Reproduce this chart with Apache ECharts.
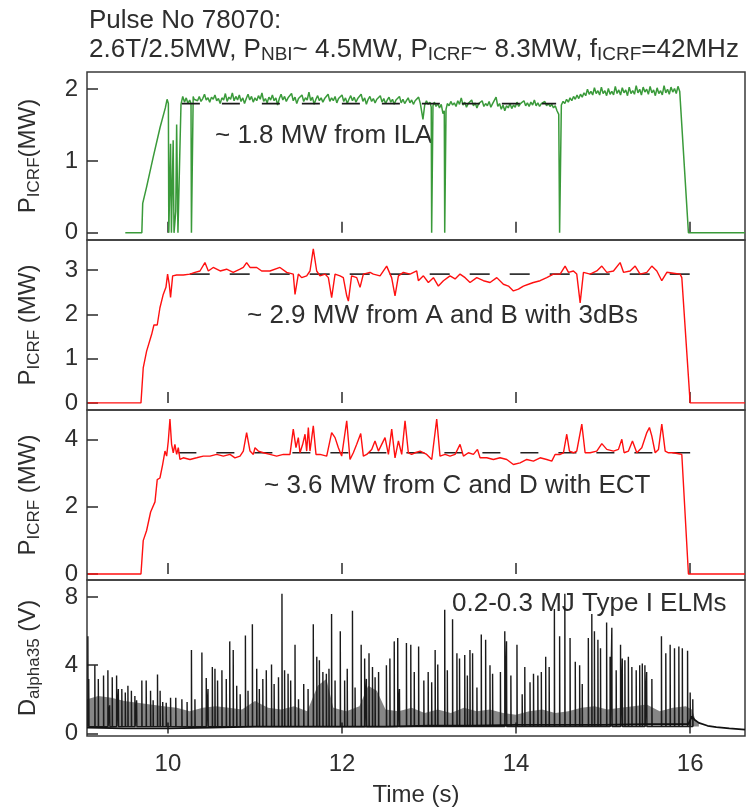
<!DOCTYPE html>
<html>
<head>
<meta charset="utf-8">
<script src="https://cdn.jsdelivr.net/npm/echarts@6/dist/echarts.min.js"></script>
<style>html,body{margin:0;padding:0;background:#fff}#c{width:752px;height:808px}</style>
</head>
<body>
<div id="c"></div>
<script>
// ---------- data ----------
const xTicks = [10, 12, 14, 16];
const yTicks1 = [0, 1, 2];
const yTicks2 = [0, 1, 2, 3];
const yTicks3 = [0, 2, 4];
const yTicks4 = [0, 4, 8];

// ILA coupled power (MW)
const ilaPower = [
[9.51,0],[9.70,0],[9.71,0.41],[9.755,0.64],[9.83,1.05],[9.91,1.47],[9.97,1.74],[9.99,1.86],[10.005,1.80],[10.01,0],[10.025,0],[10.03,1.24],[10.04,0],[10.055,0],[10.06,1.29],[10.07,0],[10.09,0.3],[10.10,1.51],[10.115,0],[10.125,0],[10.14,1.3],[10.15,1.79],[10.17,1.9],[10.19,1.82],[10.21,1.88],[10.23,1.80],[10.25,1.85],[10.265,1.8],[10.27,0],[10.28,0],[10.29,1.9],[10.30,1.86],
[10.32,1.88],[10.34,1.84],[10.36,1.90],[10.38,1.83],[10.40,1.87],[10.42,1.93],[10.44,1.85],[10.46,1.88],[10.48,1.82],[10.50,1.89],[10.52,1.86],[10.54,1.92],[10.56,1.84],[10.58,1.87],[10.60,1.80],[10.62,1.88],[10.64,1.85],[10.66,1.94],[10.68,1.83],[10.70,1.89],[10.72,1.86],[10.74,1.95],[10.76,1.84],[10.78,1.90],[10.80,1.85],[10.82,1.92],[10.84,1.83],[10.86,1.88],[10.88,1.80],[10.90,1.87],[10.92,1.93],[10.94,1.85],[10.96,1.90],[10.98,1.82],[11.00,1.88],[11.02,1.84],[11.04,1.91],[11.06,1.86],[11.08,1.95],[11.10,1.83],[11.12,1.87],[11.14,1.81],[11.16,1.89],[11.18,1.85],[11.20,1.92],[11.22,1.84],[11.24,1.88],[11.26,1.78],[11.28,1.87],[11.30,1.93],[11.32,1.85],[11.34,1.90],[11.36,1.83],[11.38,1.88],[11.40,1.86],[11.42,1.94],[11.44,1.84],[11.46,1.89],[11.48,1.80],[11.50,1.87],[11.52,1.85],[11.54,1.92],[11.56,1.83],[11.58,1.88],[11.60,1.85],[11.62,1.96],[11.64,1.84],[11.66,1.89],[11.68,1.79],[11.70,1.86],[11.72,1.91],[11.74,1.84],[11.76,1.88],[11.78,1.82],[11.80,1.87],[11.82,1.85],[11.84,1.93],[11.86,1.83],[11.88,1.88],[11.90,1.84],[11.92,1.90],[11.94,1.81],[11.96,1.87],[11.98,1.85],[12.00,1.92],[12.02,1.83],[12.04,1.88],[12.06,1.80],[12.08,1.86],[12.10,1.91],[12.12,1.84],[12.14,1.89],[12.16,1.82],[12.18,1.87],[12.20,1.85],[12.22,1.93],[12.24,1.83],[12.26,1.88],[12.28,1.79],[12.30,1.86],[12.32,1.90],[12.34,1.83],[12.36,1.87],[12.38,1.81],[12.40,1.86],[12.42,1.84],[12.44,1.91],[12.46,1.82],[12.48,1.87],[12.50,1.80],[12.52,1.85],[12.54,1.89],[12.56,1.82],[12.58,1.86],[12.60,1.79],[12.62,1.85],[12.64,1.83],[12.66,1.90],[12.68,1.81],[12.70,1.86],[12.72,1.80],[12.74,1.84],[12.76,1.88],[12.78,1.81],[12.80,1.85],[12.82,1.79],[12.84,1.84],[12.86,1.82],[12.88,1.89],[12.90,1.80],
[12.92,1.80],[12.93,1.58],[12.95,1.78],[12.97,1.84],[12.99,1.79],[13.01,1.82],[13.025,1.75],[13.03,0],[13.04,0],[13.045,1.77],[13.06,1.82],[13.08,1.76],[13.10,1.80],[13.12,1.74],[13.14,1.79],[13.16,1.66],[13.175,1.7],[13.18,0],[13.19,0],[13.195,1.72],[13.21,1.80],[13.23,1.77],[13.25,1.83],[13.27,1.78],[13.29,1.81],[13.31,1.76],[13.33,1.84],[13.35,1.79],[13.37,1.88],[13.39,1.78],[13.41,1.82],[13.43,1.75],[13.45,1.80],[13.47,1.78],[13.49,1.85],[13.51,1.77],[13.53,1.81],[13.55,1.74],[13.57,1.80],[13.59,1.78],[13.61,1.84],[13.63,1.76],[13.65,1.80],[13.67,1.77],[13.69,1.83],[13.71,1.75],[13.73,1.80],[13.75,1.78],[13.77,1.89],[13.79,1.76],[13.81,1.80],[13.83,1.72],[13.85,1.78],[13.87,1.70],[13.89,1.77],[13.91,1.74],[13.93,1.80],[13.95,1.73],[13.97,1.78],[13.99,1.75],[14.01,1.82],[14.03,1.76],[14.05,1.80],[14.07,1.78],[14.09,1.84],[14.11,1.77],[14.13,1.81],[14.15,1.76],[14.17,1.82],[14.19,1.78],[14.21,1.85],[14.23,1.77],[14.25,1.81],[14.27,1.76],[14.29,1.80],[14.31,1.78],[14.33,1.83],[14.35,1.77],[14.37,1.80],[14.39,1.76],[14.41,1.79],[14.43,1.74],[14.45,1.77],[14.47,1.70],[14.49,1.65],[14.50,0],[14.51,0],[14.52,1.78],
[14.54,1.83],[14.56,1.80],[14.58,1.86],[14.60,1.82],[14.62,1.88],[14.64,1.84],[14.66,1.90],[14.68,1.86],[14.70,1.92],[14.72,1.87],[14.74,1.93],[14.76,1.89],[14.78,1.95],[14.80,1.91],[14.82,2.00],[14.84,1.93],[14.86,1.97],[14.88,1.92],[14.90,2.02],[14.92,1.94],[14.94,1.98],[14.96,1.92],[14.98,2.03],[15.00,1.94],[15.02,1.98],[15.04,1.91],[15.06,2.01],[15.08,1.93],[15.10,1.97],[15.12,1.92],[15.14,2.04],[15.16,1.94],[15.18,1.99],[15.20,1.92],[15.22,2.02],[15.24,1.95],[15.26,1.99],[15.28,1.91],[15.30,2.03],[15.32,1.94],[15.34,1.98],[15.36,1.93],[15.38,2.05],[15.40,1.95],[15.42,2.00],[15.44,1.92],[15.46,2.03],[15.48,1.96],[15.50,2.00],[15.52,1.93],[15.54,2.04],[15.56,1.95],[15.58,1.99],[15.60,1.91],[15.62,2.02],[15.64,1.94],[15.66,1.98],[15.68,1.92],[15.70,2.05],[15.72,1.95],[15.74,2.00],[15.76,1.93],[15.78,2.03],[15.80,1.96],[15.82,2.01],[15.84,1.94],[15.86,2.04],[15.88,1.97],[15.90,1.98],[15.98,0],[16.63,0]
];
const ilaMean = [[10.16,1.8],[14.46,1.8]];

// A and B with 3dB couplers (MW)
const abPower = [
[9.08,0],[9.69,0],[9.716,0.79],[9.755,1.17],[9.813,1.55],[9.839,1.76],[9.877,1.76],[9.908,2.15],[9.946,2.45],[9.977,2.61],[9.996,2.91],[10.015,2.68],[10.03,2.38],[10.054,2.87],[10.10,2.89],[10.176,2.89],[10.253,2.91],[10.31,2.95],[10.368,2.98],[10.425,3.17],[10.464,2.98],[10.52,3.06],[10.60,2.98],[10.674,3.02],[10.75,2.95],[10.828,3.02],[10.866,3.06],[10.904,3.17],[10.943,3.06],[11.02,3.06],[11.077,2.98],[11.172,2.98],[11.287,3.06],[11.364,2.95],[11.44,2.91],[11.46,2.45],[11.498,2.91],[11.536,2.83],[11.594,2.87],[11.632,2.98],[11.67,3.48],[11.709,2.98],[11.747,2.87],[11.805,2.91],[11.843,2.83],[11.881,2.38],[11.92,2.91],[11.977,2.87],[12.015,2.83],[12.054,2.42],[12.073,2.30],[12.11,2.87],[12.169,2.83],[12.207,2.61],[12.245,2.91],[12.322,2.95],[12.36,2.91],[12.437,2.87],[12.513,3.09],[12.57,2.83],[12.609,2.42],[12.648,2.87],[12.705,2.95],[12.782,2.91],[12.858,2.98],
[12.877,2.76],[12.935,2.87],[12.992,2.72],[13.05,2.83],[13.107,2.64],[13.165,2.76],[13.241,2.87],[13.299,2.80],[13.356,2.91],[13.414,2.83],[13.471,2.72],[13.548,2.83],[13.625,2.76],[13.701,2.72],[13.778,2.83],[13.854,2.68],[13.912,2.64],[13.969,2.53],[14.027,2.57],[14.084,2.64],[14.142,2.68],[14.199,2.72],[14.276,2.76],[14.352,2.83],[14.429,2.91],[14.506,2.91],[14.563,3.09],[14.602,2.95],[14.659,2.98],[14.697,2.91],[14.736,2.26],[14.774,2.95],[14.851,2.91],[14.927,2.98],[14.985,3.09],[15.042,2.95],[15.119,2.98],[15.195,3.17],[15.234,2.95],[15.31,2.98],[15.368,3.09],[15.425,2.91],[15.502,2.95],[15.559,3.09],[15.617,2.98],[15.674,2.76],[15.732,2.95],[15.808,2.93],[15.885,2.91],[15.904,2.83],[16.0,0],[16.63,0]
];
const abMean = [[10.25,2.91],[16.2,2.91]];

// C and D with ECT (MW)
const cdPower = [
[9.08,0],[9.69,0],[9.716,0.99],[9.755,1.29],[9.801,1.84],[9.851,2.14],[9.877,2.8],[9.908,2.85],[9.939,3.25],[9.966,3.65],[9.985,3.5],[10.004,3.95],[10.023,4.6],[10.042,3.85],[10.061,3.6],[10.08,3.85],[10.10,3.55],[10.119,3.75],[10.138,3.4],[10.176,3.45],[10.253,3.4],[10.33,3.45],[10.406,3.5],[10.483,3.5],[10.56,3.55],[10.636,3.5],[10.713,3.55],[10.77,3.45],[10.828,3.5],[10.866,3.65],[10.904,4.2],[10.943,3.65],[10.981,3.55],[11.0,3.75],[11.038,3.65],[11.096,3.6],[11.172,3.55],[11.249,3.5],[11.326,3.55],[11.402,3.55],[11.44,4.3],[11.471,3.75],[11.498,4.05],[11.517,3.6],[11.548,3.85],[11.575,4.15],[11.594,3.65],[11.613,4.35],[11.632,3.65],[11.67,4.4],[11.701,3.55],[11.747,3.55],[11.824,3.5],[11.881,4.2],[11.92,4.05],[11.958,3.75],[11.996,3.5],[12.054,4.55],[12.092,3.4],[12.13,3.6],[12.169,3.85],[12.215,4.17],[12.245,3.5],[12.284,3.55],[12.341,3.7],[12.379,3.95],[12.418,3.65],[12.456,3.85],[12.494,4.05],[12.533,3.55],[12.571,4.3],[12.609,3.45],[12.648,3.95],[12.686,3.55],[12.724,4.55],[12.762,3.6],[12.8,3.55],[12.839,3.6],[12.897,3.65],[12.973,3.55],[13.031,3.4],[13.088,4.6],[13.126,3.5],[13.184,3.55],[13.241,3.5],[13.299,3.55],[13.356,3.85],[13.395,3.5],[13.452,3.6],[13.51,3.55],[13.556,3.7],[13.586,3.45],[13.663,3.45],[13.739,3.4],[13.816,3.45],[13.893,3.4],[13.969,3.25],[14.046,3.3],[14.123,3.4],[14.199,3.35],[14.276,3.45],[14.352,3.4],[14.41,3.35],[14.448,3.55],[14.506,3.55],[14.544,3.6],[14.582,4.15],[14.613,3.65],[14.659,3.6],[14.697,3.65],[14.755,4.45],[14.793,3.6],[14.851,3.6],[14.927,3.65],[14.985,3.87],[15.042,3.7],[15.119,3.65],[15.176,3.7],[15.215,4.0],[15.241,3.6],[15.291,3.65],[15.337,3.95],[15.387,3.6],[15.444,3.75],[15.502,4.2],[15.532,4.35],[15.559,4.1],[15.598,3.6],[15.636,3.7],[15.674,4.45],[15.713,3.65],[15.751,3.6],[15.808,3.6],[15.866,3.57],[15.904,3.55],[15.98,0],[16.63,0]
];
const cdMean = [[10.12,3.6],[16.0,3.6]];

// D-alpha ELM peaks (V)
const elmPeaks = [
[9.08,5.7],[9.09,3.2],[9.16,4.0],[9.20,3.2],[9.26,3.4],[9.31,3.7],[9.33,1.65],[9.36,3.3],[9.41,3.4],[9.43,2.6],[9.47,2.6],[9.51,2.4],[9.54,2.8],[9.58,2.5],[9.62,2.2],[9.64,1.95],[9.70,3.1],[9.75,3.1],[9.80,2.5],[9.83,1.95],[9.88,3.45],[9.91,2.5],[9.94,1.85],[9.98,1.8],[10.03,2.1],[10.09,2.1],[10.16,2.0],[10.22,1.85],[10.27,4.9],[10.31,2.0],[10.39,4.75],[10.44,3.25],[10.46,2.6],[10.51,3.9],[10.54,3.8],[10.57,3.1],[10.62,3.7],[10.67,3.2],[10.71,5.4],[10.75,4.9],[10.79,2.8],[10.83,2.3],[10.89,5.75],[10.92,2.5],[10.97,6.4],[11.02,3.8],[11.05,2.6],[11.09,3.2],[11.13,3.7],[11.19,4.05],[11.22,2.9],[11.27,3.3],[11.31,8.2],[11.34,3.7],[11.38,3.5],[11.41,3.1],[11.46,5.2],[11.50,2.0],[11.56,2.9],[11.61,2.6],[11.67,6.4],[11.71,4.5],[11.74,4.3],[11.78,3.6],[11.82,3.5],[11.85,3.8],[11.88,7.0],[11.92,3.1],[11.98,6.0],[12.03,3.1],[12.06,3.8],[12.12,7.2],[12.15,2.7],[12.22,5.2],[12.26,4.4],[12.28,3.2],[12.31,4.7],[12.35,3.9],[12.38,3.3],[12.42,3.6],[12.51,4.0],[12.55,4.4],[12.60,5.4],[12.64,5.6],[12.66,2.6],[12.74,5.3],[12.79,5.2],[12.83,3.6],[12.88,5.1],[12.94,3.1],[12.99,3.6],[13.03,3.0],[13.07,4.9],[13.10,4.05],[13.18,7.25],[13.21,3.7],[13.27,6.7],[13.32,4.7],[13.35,4.4],[13.41,4.6],[13.44,3.4],[13.47,4.9],[13.50,4.7],[13.55,2.7],[13.60,5.8],[13.65,5.5],[13.70,4.0],[13.73,3.5],[13.82,3.6],[13.87,6.0],[13.89,5.4],[13.94,3.4],[14.01,5.2],[14.07,2.3],[14.10,3.9],[14.16,3.0],[14.20,3.5],[14.25,3.4],[14.29,3.6],[14.34,4.5],[14.38,3.9],[14.44,7.3],[14.50,5.7],[14.56,8.2],[14.62,5.6],[14.68,4.2],[14.73,4.0],[14.76,2.9],[14.83,5.6],[14.87,7.0],[14.90,6.0],[14.94,5.5],[14.97,5.0],[15.04,6.5],[15.08,4.5],[15.10,6.2],[15.15,3.7],[15.20,5.2],[15.22,4.4],[15.25,4.3],[15.29,4.5],[15.33,3.9],[15.38,3.7],[15.42,4.0],[15.45,4.1],[15.48,4.0],[15.50,3.6],[15.56,3.2],[15.67,5.7],[15.72,4.7],[15.77,5.2],[15.82,5.0],[15.87,5.1],[15.91,5.0],[15.97,4.85],[16.00,2.4],[16.03,2.0]
];
const elmFloor = 0.4;
const dalphaBase = [[9.07,0.35],[9.5,0.3],[10.0,0.3],[10.5,0.35],[11.0,0.4],[11.5,0.4],[12.0,0.4],[12.5,0.4],[13.0,0.45],[13.5,0.45],[14.0,0.5],[14.5,0.5],[15.0,0.5],[15.5,0.55],[15.98,0.55],[16.02,1.0],[16.05,0.8],[16.1,0.62],[16.2,0.45],[16.3,0.37],[16.45,0.3],[16.63,0.22]];
const dalphaBand = [[9.07,2.0],[9.2,2.2],[9.35,2.1],[9.5,1.9],[9.65,1.8],[9.8,1.7],[9.95,1.6],[10.1,1.5],[10.25,1.3],[10.4,1.5],[10.55,1.6],[10.7,1.5],[10.85,1.4],[11.0,1.9],[11.15,1.5],[11.3,1.4],[11.45,1.6],[11.6,1.3],[11.72,2.8],[11.82,3.2],[11.9,1.5],[12.05,1.3],[12.2,1.6],[12.3,2.8],[12.4,2.5],[12.5,1.4],[12.65,1.3],[12.8,1.5],[12.95,1.2],[13.1,1.4],[13.25,1.2],[13.4,1.5],[13.55,1.3],[13.7,1.4],[13.85,1.2],[14.0,1.1],[14.15,1.3],[14.3,1.4],[14.45,1.2],[14.6,1.3],[14.75,1.5],[14.9,1.6],[15.05,1.4],[15.2,1.5],[15.35,1.6],[15.5,1.7],[15.65,1.3],[15.8,1.5],[15.95,1.6],[16.02,1.4],[16.06,0.8],[16.1,0.6]];

// ---------- chart ----------
const FONT = '"Liberation Sans", Arial, sans-serif';
const TXT = '#2e2e2e';
const X0 = 9.07, X1 = 16.63;
const elmLine = [];
elmPeaks.forEach(([t, p]) => { elmLine.push([t, elmFloor], [t, p], [t + 0.003, elmFloor]); });

const grids = [
  {left: 87, right: 7, top: 72, height: 168},
  {left: 87, right: 7, top: 240, height: 170},
  {left: 87, right: 7, top: 410, height: 170},
  {left: 87, right: 7, top: 580, height: 158}
].map(g => Object.assign(g, {show: true, borderColor: '#3a3a3a', borderWidth: 1.5, backgroundColor: 'transparent'}));

function xAx(i) {
  const last = i === 3;
  return {
    type: 'value', gridIndex: i, min: X0, max: X1,
    axisLine: {show: false},
    axisTick: {show: true, inside: true, length: 11, customValues: xTicks, lineStyle: {color: '#2a2a2a', width: 1.5}},
    axisLabel: {show: last, customValues: xTicks, fontSize: 24, fontFamily: FONT, color: TXT, margin: 16},
    splitLine: {show: false},
    name: last ? 'Time (s)' : '', nameLocation: 'middle', nameGap: 47,
    nameTextStyle: {fontSize: 24, fontFamily: FONT, color: TXT}
  };
}
const richName = {
  a: {fontSize: 24, fontFamily: FONT, color: TXT},
  s: {fontSize: 17, fontFamily: FONT, color: TXT, padding: [12, 0, 0, 0]}
};
function yAx(i, min, max, ticks, name) {
  return {
    type: 'value', gridIndex: i, min: min, max: max,
    axisLine: {show: false},
    axisTick: {show: true, inside: true, length: 11, customValues: ticks, lineStyle: {color: '#2a2a2a', width: 1.5}},
    axisLabel: {customValues: ticks, fontSize: 24, fontFamily: FONT, color: TXT, margin: 9},
    splitLine: {show: false},
    name: name, nameLocation: 'middle', nameRotate: 90, nameGap: 44,
    nameTextStyle: {rich: richName}
  };
}

const option = {
  animation: false,
  backgroundColor: '#fff',
  title: {
    left: 84, top: 1,
    text: '{a|Pulse No 78070:}\n{a|2.6T/2.5MW, P}{s|NBI}{a|~ 4.5MW, P}{s|ICRF}{a|~ 8.3MW, f}{s|ICRF}{a|=42MHz}',
    textStyle: {fontWeight: 'normal', rich: {
      a: {fontSize: 26, fontWeight: 'normal', fontFamily: FONT, color: TXT, lineHeight: 29},
      s: {fontSize: 19, fontWeight: 'normal', fontFamily: FONT, color: TXT, padding: [11, 0, 0, 0], lineHeight: 29}
    }}
  },
  grid: grids,
  xAxis: [xAx(0), xAx(1), xAx(2), xAx(3)],
  yAxis: [
    yAx(0, -0.1, 2.24, yTicks1, '{a|P}{s|ICRF}{a|(MW)}'),
    yAx(1, -0.16, 3.68, yTicks2, '{a|P}{s|ICRF}{a| (MW)}'),
    yAx(2, -0.18, 4.87, yTicks3, '{a|P}{s|ICRF}{a| (MW)}'),
    yAx(3, -0.15, 9.0, yTicks4, '{a|D}{s|alpha35}{a| (V)}')
  ],
  series: [
    {type: 'line', xAxisIndex: 0, yAxisIndex: 0, data: ilaPower, symbol: 'none', lineStyle: {color: '#3a9a3a', width: 1.5}, z: 2},
    {type: 'line', xAxisIndex: 0, yAxisIndex: 0, data: ilaMean, symbol: 'none', lineStyle: {color: '#1a1a1a', width: 1.6, type: [18, 22]}, z: 3},
    {type: 'line', xAxisIndex: 1, yAxisIndex: 1, data: abMean, symbol: 'none', lineStyle: {color: '#333', width: 1.6, type: [20, 20]}, z: 2},
    {type: 'line', xAxisIndex: 1, yAxisIndex: 1, data: abPower, symbol: 'none', lineStyle: {color: '#ff1010', width: 1.4}, z: 3},
    {type: 'line', xAxisIndex: 2, yAxisIndex: 2, data: cdMean, symbol: 'none', lineStyle: {color: '#222', width: 1.6, type: [18, 20]}, z: 2},
    {type: 'line', xAxisIndex: 2, yAxisIndex: 2, data: cdPower, symbol: 'none', lineStyle: {color: '#ff1010', width: 1.4}, z: 3},
    {type: 'line', xAxisIndex: 3, yAxisIndex: 3, data: dalphaBand, symbol: 'none', lineStyle: {width: 0}, areaStyle: {color: 'rgba(0,0,0,0.68)', origin: elmFloor}, z: 1},
    {type: 'line', xAxisIndex: 3, yAxisIndex: 3, data: elmLine, symbol: 'none', lineStyle: {color: '#1a1a1a', width: 1.4}, z: 2},
    {type: 'line', xAxisIndex: 3, yAxisIndex: 3, data: dalphaBase, symbol: 'none', lineStyle: {color: '#111', width: 1.8}, z: 3}
  ],
  graphic: [
    {type: 'text', x: 215, y: 136, style: {text: '~ 1.8 MW from ILA', fontSize: 26, fontFamily: FONT, fill: TXT, verticalAlign: 'middle'}},
    {type: 'text', x: 247, y: 316, style: {text: '~ 2.9 MW from A and B with 3dBs', fontSize: 26, fontFamily: FONT, fill: TXT, verticalAlign: 'middle'}},
    {type: 'text', x: 264, y: 486, style: {text: '~ 3.6 MW from C and D with ECT', fontSize: 26, fontFamily: FONT, fill: TXT, verticalAlign: 'middle'}},
    {type: 'text', x: 452, y: 604, style: {text: '0.2-0.3 MJ Type I ELMs', fontSize: 26, fontFamily: FONT, fill: TXT, verticalAlign: 'middle'}}
  ]
};
const chart = echarts.init(document.getElementById('c'), null, {renderer: 'canvas'});
chart.setOption(option);
</script>
</body>
</html>
